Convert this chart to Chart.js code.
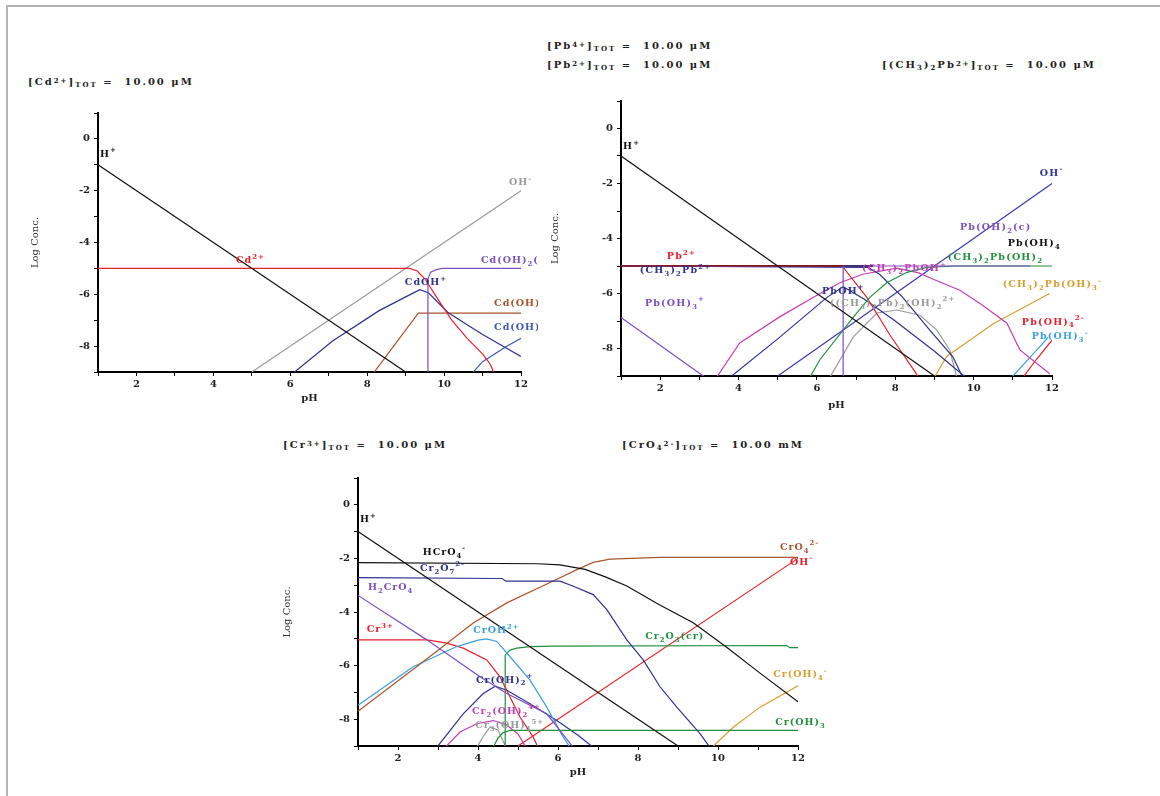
<!DOCTYPE html>
<html>
<head>
<meta charset="utf-8">
<script src="https://cdn.jsdelivr.net/npm/chart.js@4.4.1/dist/chart.umd.min.js"></script>
<style>
  body { margin: 0; background: #fff; width: 1160px; height: 796px; overflow: hidden; position: relative; }
  #frame { position: absolute; left: 6px; top: 5px; width: 1160px; height: 800px; border-top: 2px solid #b4b4b4; border-left: 2px solid #b4b4b4; }
  canvas { position: absolute; }
  .ttl { position: absolute; font: bold 10px "DejaVu Serif"; letter-spacing: 2px; color: #222; white-space: pre; line-height: 12px; }
  .ttl sup { font-size: 7px; position: relative; top: -1px; vertical-align: top; }
  .ttl sub { font-size: 7px; position: relative; top: 3px; vertical-align: bottom; }
</style>
</head>
<body>
<div id="frame"></div>

<div class="ttl" style="left:28px;top:76px">[Cd<sup>2+</sup>]<sub>TOT</sub> =  10.00 μM</div>
<div class="ttl" style="left:547px;top:40px">[Pb<sup>4+</sup>]<sub>TOT</sub> =  10.00 μM</div>
<div class="ttl" style="left:547px;top:59px">[Pb<sup>2+</sup>]<sub>TOT</sub> =  10.00 μM</div>
<div class="ttl" style="left:882px;top:59px">[(CH<sub>3</sub>)<sub>2</sub>Pb<sup>2+</sup>]<sub>TOT</sub> =  10.00 μM</div>
<div class="ttl" style="left:283px;top:439px">[Cr<sup>3+</sup>]<sub>TOT</sub> =  10.00 μM</div>
<div class="ttl" style="left:622px;top:439px">[CrO<sub>4</sub><sup>2-</sup>]<sub>TOT</sub> =  10.00 mM</div>

<canvas id="cdChart" width="528" height="312" style="left:10px;top:100px"></canvas>
<canvas id="pbChart" width="630" height="330" style="left:530px;top:90px"></canvas>
<canvas id="crChart" width="580" height="325" style="left:265px;top:465px"></canvas>

<script>
// 軸の目盛り (pH と log 濃度)
const pHTicks = [1, 12];
const logTicks = [-9, 1];

// ---- Cd パネル  [pH, log C] ----
const cdH = [[1, -1], [9, -9]];
const cdOH = [[5, -9], [12, -2]];
const cdFree = [[1, -5], [9.1, -5], [9.3, -5.1], [9.5, -5.4], [9.8, -6.1], [10.2, -7.0], [10.6, -7.7], [11.0, -8.3], [11.2, -8.7], [11.3, -9.05]];
const cdOHp = [[6.07, -9.05], [7.1, -7.8], [8.3, -6.64], [9.0, -6.1], [9.37, -5.82], [9.6, -5.95], [10.1, -6.7], [11, -7.55], [12, -8.4]];
const cdOH2s = [[9.58, -9.1], [9.58, -5.4], [9.65, -5.15], [9.8, -5.05], [9.95, -5.0], [12, -5.0]];
const cdOH2aq = [[8.16, -9.05], [9.33, -6.73], [12, -6.73]];
const cdOH3 = [[10.73, -9.05], [11.0, -8.6], [11.64, -8.0], [12, -7.7]];

// ---- Pb パネル ----
const pbH = [[1, -1], [9, -9]];
const pbOH4 = [[1, -5], [7.43, -5]];
const pbOH3p = [[1, -6.87], [3.15, -9.05]];
const pbFree = [[1, -5], [6.67, -5], [6.7, -5.1], [7.27, -6.13], [7.86, -7.5], [8.54, -8.92], [8.58, -9.05]];
const pbOHp = [[3.78, -9.05], [5.0, -7.65], [6.25, -6.15], [6.67, -5.75], [7.2, -6.2], [8.0, -7.0], [9.0, -8.1], [9.8, -9.05]];
const pbMe2 = [[1, -5], [7.3, -5.05], [7.6, -5.3], [8.19, -6.14], [8.88, -7.33], [9.47, -8.3], [9.72, -9.05]];
const pbMe2OH = [[3.44, -9.05], [4.03, -7.8], [5.05, -6.85], [6.08, -6.0], [6.6, -5.6], [7.17, -5.3], [8.04, -5.08], [8.6, -5.25], [9.0, -5.5], [9.65, -5.88], [10.2, -6.4], [10.85, -7.08], [11.18, -8.05], [11.94, -8.92]];
const pbMe2OH2 = [[5.82, -9.05], [6.08, -8.4], [6.93, -6.86], [7.35, -6.14], [7.79, -5.6], [8.3, -5.23], [8.8, -5.05], [9.5, -5.0], [12, -5.0]];
const pbDimer = [[6.33, -9.05], [6.93, -7.58], [7.53, -6.71], [8.04, -6.6], [8.63, -6.79], [9.06, -7.33], [9.39, -8.05], [9.57, -9.05]];
const pbOH = [[5, -9], [12, -2]];
const pbOH2c = [[6.67, -9.1], [6.67, -5], [11.45, -5]];
const pbMe2OH3 = [[9.0, -9.05], [9.31, -8.29], [10.5, -7.1], [11.94, -6.0]];
const pbOH4m = [[11.26, -9.05], [11.6, -8.4], [12, -7.7]];
const pbOH3m = [[10.97, -9.05], [11.69, -7.93], [11.9, -7.6]];

// ---- Cr パネル ----
const crH = [[1, -1], [9, -9]];
const crHCrO4 = [[1, -2.16], [5.5, -2.2], [6.05, -2.24], [6.68, -2.41], [7.2, -2.7], [7.72, -3.03], [8.5, -3.7], [9.38, -4.4], [10.2, -5.3], [11.05, -6.28], [12, -7.35]];
const crCr2O7 = [[1, -2.72], [4.6, -2.75], [4.7, -2.85], [6.05, -2.85], [6.4, -3.05], [6.88, -3.35], [7.22, -3.91], [7.72, -5.04], [8.13, -5.79], [8.55, -6.79], [8.97, -7.55], [9.55, -8.54], [9.8, -9.05]];
const crH2CrO4 = [[1, -3.38], [2.72, -5.04], [4.05, -6.42], [4.72, -7.04], [5.72, -7.8], [6.38, -9.05]];
const crCrO4 = [[1, -7.7], [2.8, -5.66], [3.88, -4.41], [4.72, -3.66], [5.8, -2.9], [6.05, -2.72], [6.5, -2.4], [6.88, -2.15], [7.3, -2.03], [8.55, -1.96], [12, -1.96]];
const crCrOH = [[1, -7.48], [2.38, -6.04], [3.47, -5.29], [4.0, -5.05], [4.22, -5.0], [4.47, -5.1], [4.72, -5.53], [5.3, -6.54], [5.72, -7.55], [6.13, -8.67], [6.3, -9.05]];
const crFree = [[1, -5.04], [2.72, -5.04], [3.2, -5.15], [3.63, -5.35], [4.22, -5.79], [4.55, -6.42], [4.8, -7.17], [5.05, -7.92], [5.38, -8.67], [5.5, -9.05]];
const crCr2O3 = [[4.68, -9.1], [4.68, -5.6], [4.8, -5.42], [4.97, -5.35], [5.3, -5.29], [5.9, -5.27], [11.72, -5.25], [11.8, -5.33], [12, -5.33]];
const crOH3 = [[4.38, -9.05], [4.5, -8.7], [4.63, -8.5], [4.8, -8.42], [12, -8.42]];
const crOH2p = [[2.97, -9.05], [3.63, -7.8], [4.13, -7.04], [4.43, -6.77], [4.72, -6.92], [5.3, -7.42], [5.97, -8.05], [6.5, -8.6], [6.88, -9.05]];
const crDimer = [[3.18, -9.05], [3.55, -8.48], [3.97, -8.17], [4.38, -8.05], [4.7, -8.2], [5.0, -8.55], [5.2, -9.05]];
const crTrimer = [[3.97, -9.05], [4.15, -8.6], [4.3, -8.3], [4.5, -8.4], [4.7, -9.05]];
const crOH = [[5, -9], [12, -2]];
const crOH4 = [[9.85, -9.05], [10.38, -8.3], [11.05, -7.55], [12, -6.75]];

// 色
const BLACK = '#111', GRAY = '#9a9a9a', RED = '#e8202a', NAVY = '#2e3192', PURPLE = '#7b4fc0',
      BROWN = '#a8552c', BLUE = '#4056b0', MAGENTA = '#c43fb4', GREEN = '#1f9040', ORANGE = '#d6a030', LBLUE = '#3aa0e0';

// 化学種のラベル ( _ は下付き, ^ は上付き )
const cdLabels = [
  ['H^+', BLACK, 1.05, -0.59], ['OH^-', GRAY, 11.69, -1.68], ['Cd^{2+}', RED, 4.59, -4.69],
  ['Cd(OH)_2(s)', PURPLE, 10.96, -4.69], ['CdOH^+', NAVY, 8.98, -5.55],
  ['Cd(OH)_2(aq)', BROWN, 11.3, -6.37], ['Cd(OH)_3^-', BLUE, 11.3, -7.3]
];
const pbLabels = [
  ['H^+', BLACK, 1.05, -0.65], ['OH^-', NAVY, 11.69, -1.62], ['Pb(OH)_2(c)', PURPLE, 9.65, -3.61],
  ['Pb(OH)_4', BLACK, 10.87, -4.19], ['(CH_3)_2Pb(OH)_2', GREEN, 9.34, -4.69],
  ['(CH_3)_2Pb(OH)_3^-', ORANGE, 10.74, -5.67], ['Pb(OH)_4^{2-}', RED, 11.23, -7.04],
  ['Pb(OH)_3^-', LBLUE, 11.48, -7.58], ['Pb^{2+}', RED, 2.17, -4.66],
  ['(CH_3)_2Pb^{2+}', NAVY, 1.48, -5.16], ['Pb(OH)_3^+', PURPLE, 1.61, -6.35],
  ['(CH_3)_2PbOH^+', MAGENTA, 7.15, -5.09], ['PbOH^+', NAVY, 6.13, -5.92],
  ['((CH_3)_2Pb)_2(OH)_2^{2+}', GRAY, 6.33, -6.35]
];
const crLabels = [
  ['H^+', BLACK, 1.05, -0.56], ['HCrO_4^-', BLACK, 2.62, -1.77], ['Cr_2O_7^{2-}', NAVY, 2.55, -2.37],
  ['H_2CrO_4', PURPLE, 1.25, -3.08], ['Cr^{3+}', RED, 1.22, -4.66], ['CrOH^{2+}', LBLUE, 3.88, -4.7],
  ['Cr_2O_3(cr)', GREEN, 8.18, -4.92], ['Cr(OH)_2^+', NAVY, 3.95, -6.54],
  ['Cr_2(OH)_2^{4+}', MAGENTA, 3.85, -7.7], ['Cr_3(OH)_4^{5+}', GRAY, 3.93, -8.23],
  ['CrO_4^{2-}', BROWN, 11.55, -1.58], ['OH^-', RED, 11.8, -2.14],
  ['Cr(OH)_4^-', ORANGE, 11.38, -6.35], ['Cr(OH)_3', GREEN, 11.43, -8.12]
];

// 下付き・上付きを含む文字列を描く
function drawRich(ctx, str, x, y, size) {
  const re = /([_^])(\{[^}]*\}|.)/g;
  const parts = [];
  let last = 0, m;
  while ((m = re.exec(str))) {
    if (m.index > last) parts.push([str.slice(last, m.index), 0]);
    let t = m[2];
    if (t[0] === '{') t = t.slice(1, -1);
    parts.push([t, m[1] === '_' ? 1 : -1]);
    last = re.lastIndex;
  }
  if (last < str.length) parts.push([str.slice(last), 0]);
  let cx = x;
  for (const [t, k] of parts) {
    const s = k ? size * 0.72 : size;
    ctx.font = 'bold ' + s + 'px "DejaVu Serif"';
    ctx.fillText(t, cx, y + k * size * 0.38);
    cx += ctx.measureText(t).width;
  }
}

const speciesLabels = {
  id: 'speciesLabels',
  afterDatasetsDraw(chart, args, opts) {
    const ctx = chart.ctx, xs = chart.scales.x, ys = chart.scales.y;
    ctx.save();
    ctx.textBaseline = 'middle';
    ctx.textAlign = 'left';
    ctx.letterSpacing = opts.spacing + 'px';
    for (const [text, color, px, py] of opts.items) {
      ctx.fillStyle = color;
      drawRich(ctx, text, xs.getPixelForValue(px), ys.getPixelForValue(py), opts.size);
    }
    ctx.restore();
  }
};

function line(data, color, width) {
  return {
    data: data.map(([x, y]) => ({ x, y })),
    borderColor: color,
    borderWidth: width || 1.2,
    showLine: true,
    pointRadius: 0,
    tension: 0,
    fill: false
  };
}

// box = [キャンバス左, 上, 幅, 高さ], area = プロット領域 [左, 上, 右, 下] (ページ座標)
function makeChart(id, box, area, datasets, labels, opt) {
  const [cl, ct, cw, ch] = box;
  const [L, T, R, B] = area;
  const yW = L - cl;
  const xH = opt.pHy + 6 - B;
  const tickFont = { family: 'DejaVu Serif', size: 10, weight: 'bold' };
  return new Chart(document.getElementById(id), {
    type: 'scatter',
    data: { datasets },
    options: {
      responsive: false,
      animation: false,
      devicePixelRatio: 1,
      layout: { padding: { left: 0, top: T - ct, right: cl + cw - R, bottom: ct + ch - B - xH } },
      plugins: {
        legend: { display: false },
        tooltip: { enabled: false },
        speciesLabels: { items: labels, size: opt.size, spacing: opt.spacing }
      },
      scales: {
        x: {
          type: 'linear', min: pHTicks[0], max: pHTicks[1],
          afterFit: s => { s.height = xH; s.paddingLeft = 0; s.paddingRight = 0; },
          ticks: { stepSize: 1, autoSkip: false, maxRotation: 0, padding: 2, color: '#222', font: tickFont,
                   callback: v => (v % 2 === 0 ? String(v) : '') },
          grid: { drawOnChartArea: false, drawTicks: true, tickLength: 4, color: '#000' },
          border: { display: true, color: '#000', width: 2 },
          title: { display: true, text: 'pH', color: '#222', font: tickFont, padding: 0 }
        },
        y: {
          type: 'linear', min: logTicks[0], max: logTicks[1],
          afterFit: s => { s.width = yW; s.paddingTop = 0; s.paddingBottom = 0; },
          ticks: { stepSize: 1, autoSkip: false, padding: 4, color: '#222', font: tickFont,
                   callback: v => (v % 2 === 0 ? String(v) : '') },
          grid: { drawOnChartArea: false, drawTicks: true, tickLength: 4, color: '#000' },
          border: { display: true, color: '#000', width: 2 },
          title: { display: true, text: 'Log Conc.', color: '#333', font: { family: 'DejaVu Serif', size: 10 },
                   padding: { top: opt.titleX - cl - 6, bottom: 0 } }
        }
      }
    },
    plugins: [speciesLabels]
  });
}

makeChart('cdChart', [10, 100, 528, 312], [98, 113, 521, 372], [
  line(cdH, BLACK), line(cdFree, RED), line(cdOH2s, PURPLE), line(cdOHp, NAVY),
  line(cdOH2aq, BROWN), line(cdOH3, BLUE), line(cdOH, GRAY)
], cdLabels, { pHy: 398, titleX: 35, size: 9.5, spacing: 1 });

makeChart('pbChart', [530, 90, 630, 330], [621, 101, 1052, 376], [
  line(pbH, BLACK), line(pbOH2c, PURPLE), line(pbMe2OH2, GREEN), line(pbFree, RED),
  line(pbOHp, NAVY), line(pbMe2, NAVY), line(pbMe2OH, MAGENTA), line(pbDimer, GRAY),
  line(pbOH, '#3a3aa8'), line(pbMe2OH3, ORANGE), line(pbOH4m, RED), line(pbOH3m, LBLUE),
  line(pbOH3p, PURPLE), line(pbOH4, BLACK, 2)
], pbLabels, { pHy: 405, titleX: 555, size: 9.5, spacing: 1.2 });

makeChart('crChart', [265, 465, 580, 325], [358, 478, 798, 746], [
  line(crH, BLACK), line(crHCrO4, BLACK), line(crCr2O7, NAVY), line(crH2CrO4, PURPLE),
  line(crCrO4, BROWN), line(crCrOH, LBLUE), line(crFree, RED), line(crCr2O3, GREEN),
  line(crOH3, GREEN), line(crOH2p, NAVY), line(crDimer, MAGENTA), line(crTrimer, GRAY),
  line(crOH, RED), line(crOH4, ORANGE)
], crLabels, { pHy: 772, titleX: 287, size: 9.5, spacing: 1 });
</script>
</body>
</html>
